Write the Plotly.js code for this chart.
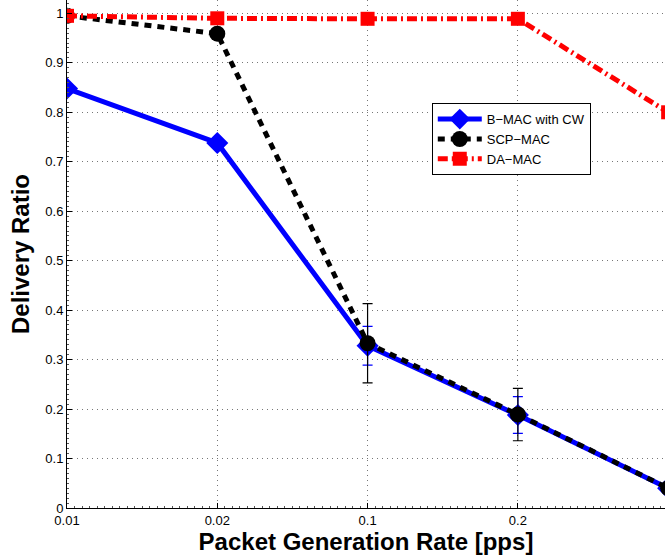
<!DOCTYPE html>
<html>
<head>
<meta charset="utf-8">
<script src="https://cdn.plot.ly/plotly-3.0.1.min.js"></script>
<style>html,body{margin:0;padding:0;background:#fff;}#chart{width:665px;height:556px;}</style>
</head>
<body>
<div id="chart"></div>
<script>
// Data
var categories = ["0.01", "0.02", "0.1", "0.2", "0.5"];
var bmacValues = [0.848, 0.738, 0.328, 0.188, 0.040];
var bmacErrors = [null, null, 0.039, 0.037, null];
var scpValues  = [0.995, 0.959, 0.333, 0.189, 0.040];
var scpErrors  = [null, null, 0.080, 0.053, null];
var daValues   = [0.995, 0.990, 0.989, 0.989, 0.800];
var seriesNames = ["B\u2212MAC with CW", "SCP\u2212MAC", "DA\u2212MAC"];
var yTicks = [0, 0.1, 0.2, 0.3, 0.4, 0.5, 0.6, 0.7, 0.8, 0.9, 1];
var yTickText = ["0", "0.1", "0.2", "0.3", "0.4", "0.5", "0.6", "0.7", "0.8", "0.9", "1"];

var xIdx = categories.map(function (c, i) { return i; });
var font = "Liberation Sans, Arial, Helvetica, sans-serif";

var traces = [
  {
    x: xIdx, y: bmacValues, name: seriesNames[0], type: "scatter", mode: "lines+markers",
    line: { color: "#0000ff", width: 5 },
    marker: { symbol: "diamond", size: 17, color: "#0000ff" },
    error_y: { type: "data", array: bmacErrors, visible: true, color: "#0000ff", thickness: 1.2, width: 5 }
  },
  {
    x: xIdx, y: scpValues, name: seriesNames[1], type: "scatter", mode: "lines+markers",
    line: { color: "#000000", width: 5, dash: "7px,6px" },
    marker: { symbol: "circle", size: 16, color: "#000000" },
    error_y: { type: "data", array: scpErrors, visible: true, color: "#000000", thickness: 1.2, width: 5 }
  },
  {
    x: xIdx, y: daValues, name: seriesNames[2], type: "scatter", mode: "lines+markers",
    line: { color: "#ff0000", width: 5, dash: "10px,4px,2px,4px" },
    marker: { symbol: "square", size: 14, color: "#ff0000" }
  }
];

var layout = {
  width: 665, height: 556,
  margin: { l: 67, r: 0, t: 0, b: 48 },
  paper_bgcolor: "#ffffff", plot_bgcolor: "#ffffff",
  font: { family: font, size: 13, color: "#000" },
  showlegend: true,
  legend: {
    x: 0.61, y: 0.797, xanchor: "left", yanchor: "top",
    bgcolor: "#ffffff", bordercolor: "#000", borderwidth: 1,
    font: { family: font, size: 13, color: "#000" },
    tracegroupgap: 0, itemwidth: 44
  },
  xaxis: {
    type: "linear", range: [0, 3.979],
    tickmode: "array", tickvals: xIdx, ticktext: categories,
    ticks: "inside", ticklen: 5, tickcolor: "#000",
    showline: true, linecolor: "#000", linewidth: 1,
    showgrid: true, gridcolor: "#777", griddash: "1px,4px", gridwidth: 1,
    zeroline: false,
    tickfont: { family: font, size: 13, color: "#000" },
    minor: { ticks: "inside", ticklen: 2, dtick: 0.05, tick0: 0, tickcolor: "#555", showgrid: false },
    title: { text: "<b>Packet Generation Rate [pps]</b>", font: { family: font, size: 24, color: "#000" }, standoff: 2 },
    automargin: false
  },
  yaxis: {
    range: [0, 1.027],
    tickmode: "array", tickvals: yTicks, ticktext: yTickText,
    ticks: "inside", ticklen: 5, tickcolor: "#000",
    showline: true, linecolor: "#000", linewidth: 1,
    showgrid: true, gridcolor: "#777", griddash: "1px,4px", gridwidth: 1,
    zeroline: false,
    tickfont: { family: font, size: 13, color: "#000" },
    minor: { ticks: "inside", ticklen: 2, dtick: 0.01, tick0: 0, tickcolor: "#555", showgrid: false },
    title: { text: "<b>Delivery Ratio</b>", font: { family: font, size: 24, color: "#000" }, standoff: 8 },
    automargin: false
  }
};

Plotly.newPlot("chart", traces, layout, { displayModeBar: false, staticPlot: true });
</script>
</body>
</html>
